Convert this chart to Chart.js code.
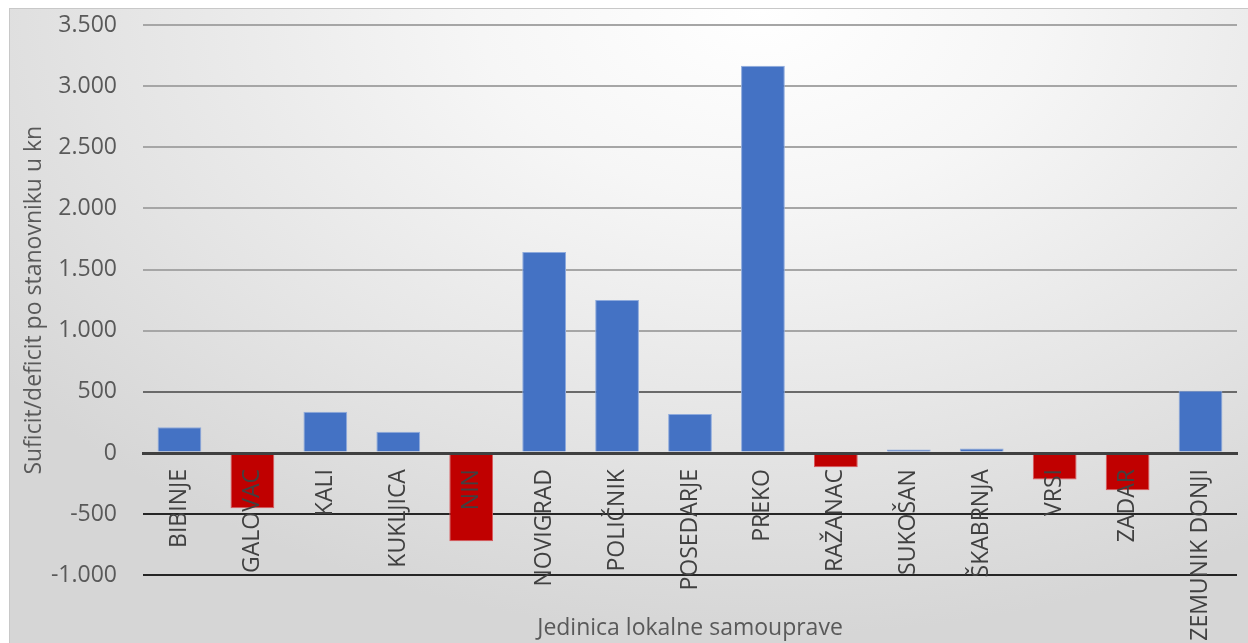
<!DOCTYPE html>
<html>
<head>
<meta charset="utf-8">
<script src="https://cdn.jsdelivr.net/npm/chart.js@4.4.1/dist/chart.umd.min.js"></script>
<style>
  html, body { margin: 0; padding: 0; width: 1248px; height: 643px; overflow: hidden; background: #fff; }
  #frame {
    position: absolute; left: 9px; top: 8px; width: 1250px; height: 660px;
    border: 1px solid #c8c8c8;
    background: radial-gradient(ellipse 75% 95% at 60% 0%, #ffffff 0%, #f6f6f6 30%, #e4e4e4 70%, #d6d6d6 100%);
  }
  #wrap { position: absolute; left: 0; top: 0; width: 1248px; height: 643px; }
</style>
</head>
<body>
<div id="frame"></div>
<div id="wrap"><canvas id="chart"></canvas></div>
<script>
// data
const municipalities = ['BIBINJE', 'GALOVAC', 'KALI', 'KUKLJICA', 'NIN', 'NOVIGRAD', 'POLIČNIK',
    'POSEDARJE', 'PREKO', 'RAŽANAC', 'SUKOŠAN', 'ŠKABRNJA', 'VRSI', 'ZADAR', 'ZEMUNIK DONJI'];
const balancePerCapita = [212, -450, 338, 174, -720, 1645, 1252, 319, 3167, -115, 30, 38, -215, -303, 510];
const yTicks = [-1000, -500, 0, 500, 1000, 1500, 2000, 2500, 3000, 3500];

const FONT = "'Open Sans', 'DejaVu Sans', sans-serif";
const fmt = v => v.toLocaleString('de-DE');

// grid lines get darker towards the bottom, like in the original
function gridColor(ctx) {
    const v = ctx.tick ? ctx.tick.value : 0;
    if (v === 0) return '#404040';
    if (v < 0) return '#262626';
    if (v === 500) return '#6a6a6a';
    return '#a6a6a6';
}

new Chart(document.getElementById('chart'), {
    type: 'bar',
    data: {
        labels: municipalities,
        datasets: [{
            label: 'Suficit/deficit',
            data: balancePerCapita,
            backgroundColor: ctx => ctx.raw < 0 ? '#C00000' : '#4472C4',
            borderColor: ctx => ctx.raw < 0 ? '#D8585C' : '#8EAADC',
            borderWidth: 1,
            barPercentage: 0.6,
            categoryPercentage: 1
        }]
    },
    options: {
        responsive: true,
        maintainAspectRatio: false,
        animation: false,
        layout: { padding: { left: 10, top: 25, right: 11, bottom: 0 } },
        plugins: {
            legend: { display: false },
            tooltip: { enabled: false },
            title: {
                display: true,
                position: 'bottom',
                fullSize: false, // centre under the plot area
                text: 'Jedinica lokalne samouprave',
                color: '#595959',
                font: { family: FONT, size: 23, weight: 'normal' },
                padding: { top: 39, bottom: 1 }
            }
        },
        scales: {
            x: {
                type: 'category',
                position: { y: 0 },
                offset: true,
                grid: { display: false, drawTicks: false },
                border: { display: true, color: '#404040', width: 3, z: 1 },
                ticks: {
                    z: 1, // labels over the bars
                    autoSkip: false,
                    minRotation: 90,
                    maxRotation: 90,
                    padding: 16,
                    color: '#404040',
                    font: { family: FONT, size: 23 }
                }
            },
            y: {
                min: -1000,
                max: 3500,
                afterBuildTicks: scale => { scale.ticks = yTicks.map(v => ({ value: v })); },
                afterFit: scale => {
                    scale.width = 133;
                    scale.paddingTop = 0;
                    scale.paddingBottom = 0;
                },
                grid: {
                    color: gridColor,
                    lineWidth: ctx => (ctx.tick && ctx.tick.value === 0) ? 3 : 2,
                    drawTicks: false
                },
                border: { display: false },
                ticks: {
                    padding: 26,
                    color: '#595959',
                    font: { family: FONT, size: 23 },
                    callback: v => fmt(v)
                },
                title: {
                    display: true,
                    text: 'Suficit/deficit po stanovniku u kn',
                    color: '#595959',
                    font: { family: FONT, size: 23 },
                    padding: { top: 11, bottom: 0 }
                }
            }
        }
    }
});
</script>
</body>
</html>
